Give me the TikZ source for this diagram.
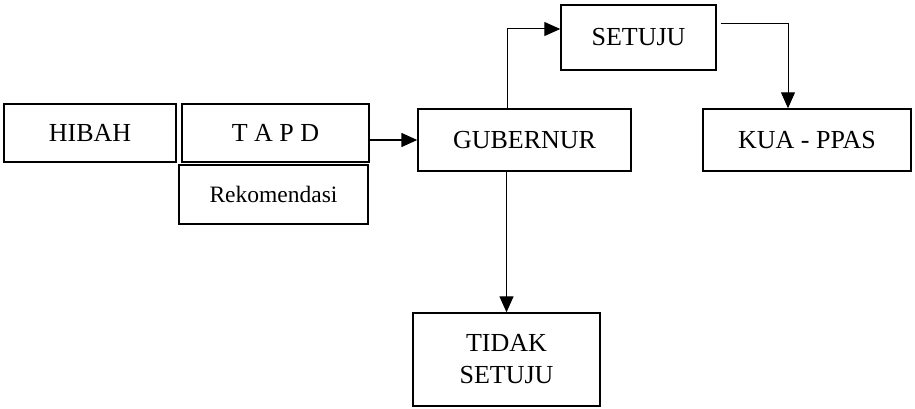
\documentclass[tikz,border=0pt]{standalone}
\usepackage{fontspec}
\setmainfont{Liberation Serif}
\usetikzlibrary{arrows.meta, positioning}
\tikzset{
    >={Triangle[length=16pt,width=14pt]}, % filled arrow heads
    box/.style={draw, line width=1.4pt, inner sep=0pt, align=center, font=\fontsize{26}{32}\selectfont}, % sets the look of every box
    link/.style={->, line width=1.3pt}, % directed connectors
}

\begin{document}
\begin{tikzpicture}[x=1pt, y=-1pt]

        \useasboundingbox (0,0) rectangle (915,409);

        % Nodes
        \node[box, minimum width=172pt, minimum height=58pt] (hibah) at (90,133) {HIBAH};
        \node[box, minimum width=187pt, minimum height=58pt] (tapd) at (275.5,133) {T A P D};
        \node[box, minimum width=189pt, minimum height=59pt, below=1.5pt of tapd, xshift=-2pt,
              font=\fontsize{23.5}{28}\selectfont] (rekom) {Rekomendasi};
        \node[box, minimum width=213pt, minimum height=62pt] (gub) at (524.5,140) {GUBERNUR};
        \node[box, minimum width=155pt, minimum height=65pt] (setuju) at (638.5,37.5) {SETUJU};
        \node[box, minimum width=208pt, minimum height=62pt] (kua) at (807,140) {KUA - PPAS};
        \node[box, minimum width=187pt, minimum height=93pt] (tidak) at (506.5,359.5) {TIDAK\\SETUJU};

        % edges
        \draw[link, line width=1.6pt] (tapd.east |- gub.west) -- (gub.west);
        \draw[link, line width=1pt] ([xshift=-17.5pt]gub.north) |- ([yshift=8.5pt]setuju.west);
        \draw[link, line width=1pt] ([xshift=4pt, yshift=13.5pt]setuju.east) -| ([xshift=-19pt]kua.north);
        \draw[link] (tidak.north |- gub.south) -- (tidak.north);

    \end{tikzpicture}
\end{document}
